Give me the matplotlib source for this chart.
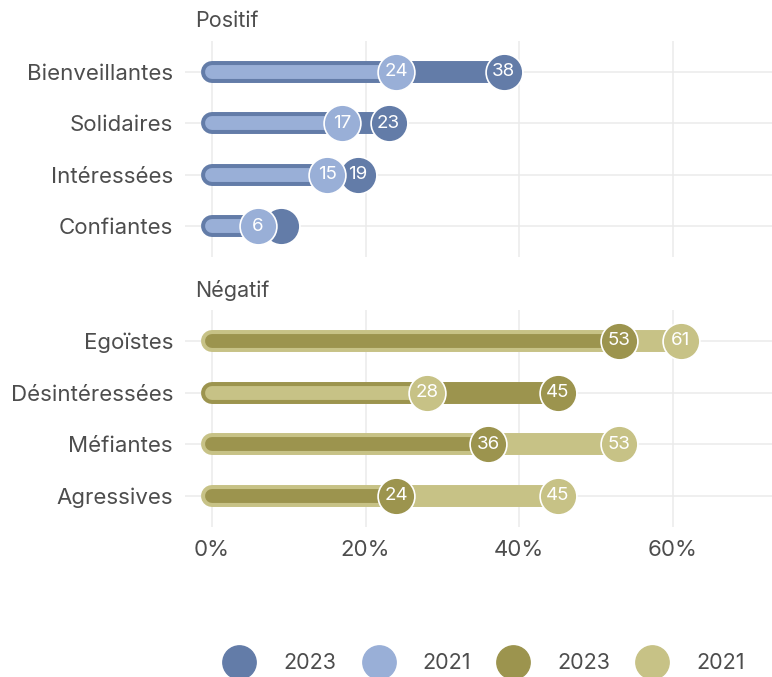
import matplotlib.pyplot as plt
from matplotlib.lines import Line2D

plt.rcParams['font.family'] = ['Inter', 'DejaVu Sans']

# data
pos_labels = ['Bienveillantes', 'Solidaires', 'Intéressées', 'Confiantes']
pos_2023 = [38, 23, 19, 9]
pos_2021 = [24, 17, 15, 6]
pos_2023_txt = ['38', '23', '19', '']
pos_2021_txt = ['24', '17', '15', '6']

neg_labels = ['Egoïstes', 'Désintéressées', 'Méfiantes', 'Agressives']
neg_2023 = [53, 45, 36, 24]
neg_2021 = [61, 28, 53, 45]

years = ['2023', '2021']
blue_dark, blue_light = '#637ca8', '#99afd7'
olive_dark, olive_light = '#9c944e', '#c7c286'
txt_col = '#4d4d4d'
grid_col = '#ebebeb'

fig = plt.figure(figsize=(7.72, 6.77), dpi=100)
ax1 = fig.add_axes([0.2396, 0.6204, 0.7604, 0.319])
ax2 = fig.add_axes([0.2396, 0.2216, 0.7604, 0.3205])


def draw_panel(ax, labels, v23, v21, t23, t21, c23, c21, title):
    for i, (a, b) in enumerate(zip(v23, v21)):
        y = i + 1
        big = [(a, c23, t23[i]), (b, c21, t21[i])]
        big.sort(key=lambda r: -r[0])
        (va, ca, ta), (vb, cb, tb) = big
        ax.plot([0, va], [y, y], color=ca, lw=15.8, solid_capstyle='round', zorder=2)
        ax.plot([0, vb], [y, y], color=cb, lw=10.0, solid_capstyle='round', zorder=3)
        ax.plot(va, y, 'o', ms=26.5, color=ca, mec='white', mew=1.2, zorder=4)
        ax.text(va, y, ta, color='white', fontsize=13.5, ha='center', va='center', zorder=5)
        ax.plot(vb, y, 'o', ms=26.5, color=cb, mec='white', mew=1.2, zorder=6)
        ax.text(vb, y, tb, color='white', fontsize=13.5, ha='center', va='center', zorder=7)
    ax.set_xlim(-3.5, 72.9)
    ax.set_ylim(4.6, 0.4)
    ax.set_yticks(range(1, len(labels) + 1))
    ax.set_yticklabels(labels)
    ax.set_xticks([0, 20, 40, 60])
    ax.grid(color=grid_col, lw=1.1, zorder=0)
    ax.set_axisbelow(True)
    for s in ax.spines.values():
        s.set_visible(False)
    ax.tick_params(length=0, labelsize=16, labelcolor=txt_col, pad=8.6)
    ax.text(0.017, 1.092, title, transform=ax.transAxes, fontsize=15.5,
            color=txt_col, ha='left', va='center')


draw_panel(ax1, pos_labels, pos_2023, pos_2021, pos_2023_txt, pos_2021_txt,
           blue_dark, blue_light, 'Positif')
draw_panel(ax2, neg_labels, neg_2023, neg_2021,
           [str(v) for v in neg_2023], [str(v) for v in neg_2021],
           olive_dark, olive_light, 'Négatif')
ax1.tick_params(axis='x', labelbottom=False)
ax2.set_xticklabels(['0%', '20%', '40%', '60%'])
ax2.tick_params(axis='x', pad=9.4)

handles = [Line2D([], [], ls='', marker='o', ms=24, color=c)
           for c in [blue_dark, blue_light, olive_dark, olive_light]]
fig.legend(handles, years + years, loc='center right', bbox_to_anchor=(0.99, 0.02),
           ncol=4, frameon=False, fontsize=15.5, labelcolor=txt_col,
           handletextpad=1.3, columnspacing=1.2, handlelength=1.5)

fig.savefig('out.png', dpi=100)
